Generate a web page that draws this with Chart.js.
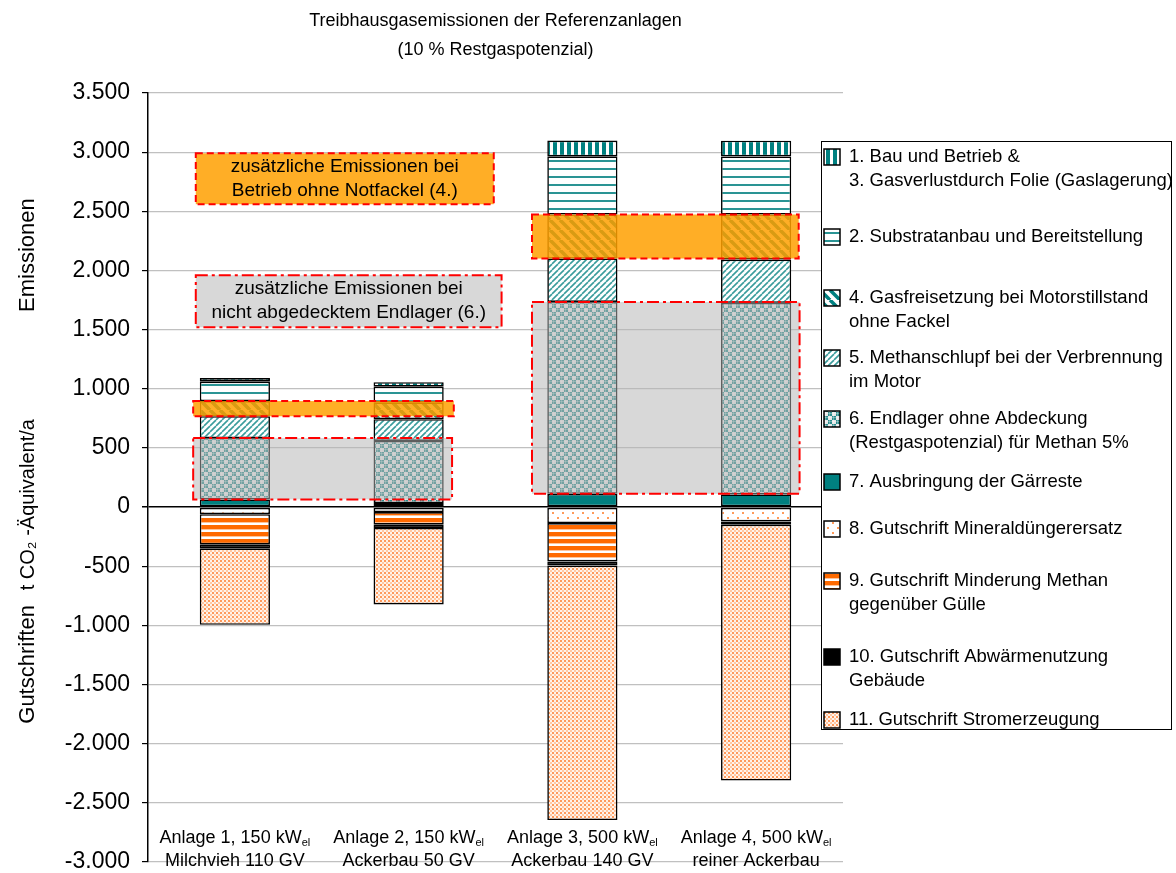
<!DOCTYPE html>
<html>
<head>
<meta charset="utf-8">
<script src="https://cdn.jsdelivr.net/npm/chart.js@4/dist/chart.umd.min.js"></script>
<style>
  html, body { margin: 0; padding: 0; background: #fff; }
  #wrap { width: 1176px; height: 873px; }
</style>
</head>
<body>
<div id="wrap"><canvas id="c" width="1176" height="873"></canvas></div>
<script>
// Treibhausgasemissionen der Referenzanlagen — stacked bars, t CO2-Äq./a

// ---------------------------------------------------------------------------
// Data
// ---------------------------------------------------------------------------

var categoriesTop = ['Anlage 1, 150 kW', 'Anlage 2, 150 kW', 'Anlage 3, 500 kW', 'Anlage 4, 500 kW'];
var categoriesSub = 'el';
var categoriesBottom = ['Milchvieh 110 GV', 'Ackerbau 50 GV', 'Ackerbau 140 GV', 'reiner Ackerbau'];

var bauBetrieb     = [30, 37, 133, 133];      // 1. + 3.
var substrat       = [164, 133, 492, 492];    // 2.
var gasfreisetzung = [128, 142, 372, 380];    // 4.
var methanschlupf  = [184, 184, 367, 366];    // 5.
var endlager       = [519, 525, 1622, 1619];  // 6.
var ausbringung    = [65, 34, 112, 107];      // 7.
var mineral        = [-60, -42, -135, -121];  // 8.
var minderung      = [-255, -107, -324, 0];   // 9.
var abwaerme       = [-34, -28, -34, -28];    // 10.
var strom          = [-646, -646, -2153, -2162]; // 11.

var yTicks = [-3000, -2500, -2000, -1500, -1000, -500, 0, 500, 1000, 1500, 2000, 2500, 3000, 3500];

var legendNames = [
  ['1. Bau und Betrieb &', '3. Gasverlustdurch Folie (Gaslagerung)'],
  ['2. Substratanbau und Bereitstellung'],
  ['4. Gasfreisetzung bei Motorstillstand', 'ohne Fackel'],
  ['5. Methanschlupf bei der Verbrennung', 'im Motor'],
  ['6. Endlager ohne Abdeckung', '(Restgaspotenzial) für Methan 5%'],
  ['7. Ausbringung der Gärreste'],
  ['8. Gutschrift Mineraldüngerersatz'],
  ['9. Gutschrift Minderung Methan', 'gegenüber Gülle'],
  ['10. Gutschrift Abwärmenutzung', 'Gebäude'],
  ['11. Gutschrift Stromerzeugung']
];

var titleLines = ['Treibhausgasemissionen der Referenzanlagen', '(10 % Restgaspotenzial)'];

// ---------------------------------------------------------------------------
// Fill patterns
// ---------------------------------------------------------------------------

var TEAL = '#008080';
var FONT = '"Liberation Sans", Arial, sans-serif';
var mainCtx = document.getElementById('c').getContext('2d');

function pattern(w, h, paint) {
  var c = document.createElement('canvas');
  c.width = w; c.height = h;
  var g = c.getContext('2d');
  paint(g, w, h);
  return mainCtx.createPattern(c, 'repeat');
}

var pVert = pattern(7, 7, function (g) {
  g.fillStyle = '#fff'; g.fillRect(0, 0, 7, 7);
  g.fillStyle = TEAL; g.fillRect(0, 0, 4, 7);
});
var pHoriz = pattern(8, 8, function (g) {
  g.fillStyle = '#fff'; g.fillRect(0, 0, 8, 8);
  g.fillStyle = '#2a9494'; g.fillRect(0, 0, 8, 2);
});
var pDiagDark = pattern(10, 10, function (g) {
  g.fillStyle = '#fff'; g.fillRect(0, 0, 10, 10);
  g.strokeStyle = TEAL; g.lineWidth = 3.5;
  [-10, 0, 10].forEach(function (o) {
    g.beginPath(); g.moveTo(o, 0); g.lineTo(o + 10, 10); g.stroke();
  });
});
var pDiagLight = pattern(6, 6, function (g) {
  g.fillStyle = '#fff'; g.fillRect(0, 0, 6, 6);
  g.strokeStyle = '#3a9c9c'; g.lineWidth = 1.6;
  [-6, 0, 6].forEach(function (o) {
    g.beginPath(); g.moveTo(o, 6); g.lineTo(o + 6, 0); g.stroke();
  });
});
var pCheck = pattern(8, 8, function (g) {
  g.fillStyle = '#e8e8e8'; g.fillRect(0, 0, 8, 8);
  g.fillStyle = '#2b8d8d'; g.fillRect(0, 0, 4, 4); g.fillRect(4, 4, 4, 4);
  g.fillStyle = 'rgba(255,255,255,0.3)';
  g.fillRect(0, 1, 8, 1); g.fillRect(1, 0, 1, 8); g.fillRect(0, 5, 8, 1); g.fillRect(5, 0, 1, 8);
});
var pMineral = pattern(10, 10, function (g) {
  g.fillStyle = '#fff'; g.fillRect(0, 0, 10, 10);
  g.fillStyle = '#ff9a5a'; g.fillRect(2, 2, 2, 2); g.fillRect(7, 7, 2, 2);
});
var pStripes = pattern(7, 7, function (g) {
  g.fillStyle = '#fff'; g.fillRect(0, 0, 7, 7);
  g.fillStyle = '#ff6a00'; g.fillRect(0, 0, 7, 4);
  g.fillStyle = '#ffc49a'; g.fillRect(0, 4, 7, 1);
});
var pStrom = pattern(4, 4, function (g) {
  g.fillStyle = '#fff3ea'; g.fillRect(0, 0, 4, 4);
  g.fillStyle = '#ff9a5c'; g.fillRect(0, 0, 2, 2);
  g.fillStyle = '#ffc8a4'; g.fillRect(2, 2, 2, 2);
});

// ---------------------------------------------------------------------------
// Datasets (stack order: first dataset sits next to the zero line)
// ---------------------------------------------------------------------------

function ds(key, values, fill) {
  return {
    label: legendNames[key].join(' '),
    legendKey: key,
    data: values,
    backgroundColor: fill,
    borderColor: '#000',
    borderWidth: 1.6,
    borderSkipped: false,
    stack: 's'
  };
}

var datasets = [
  ds(5, ausbringung, TEAL),
  ds(4, endlager, pCheck),
  ds(3, methanschlupf, pDiagLight),
  ds(2, gasfreisetzung, pDiagDark),
  ds(1, substrat, pHoriz),
  ds(0, bauBetrieb, pVert),
  ds(6, mineral, pMineral),
  ds(7, minderung, pStripes),
  ds(8, abwaerme, '#000'),
  ds(9, strom, pStrom)
];

// ---------------------------------------------------------------------------
// Overlays, legend and texts
// ---------------------------------------------------------------------------

var ORANGE_FILL = 'rgba(255,160,0,0.85)';
var GREY_FILL = 'rgba(180,180,180,0.52)';

// bands over a pair of bars, following the segment they mark
var bands = [
  { cats: [0, 1], ds: 3, pad: [0.24, 0.26], fill: ORANGE_FILL, dash: [7, 4] },
  { cats: [2, 3], ds: 3, pad: [0.29, 0.245], fill: ORANGE_FILL, dash: [7, 4] },
  { cats: [0, 1], ds: 1, pad: [0.24, 0.25], fill: GREY_FILL, dash: [12, 4, 3, 4] },
  { cats: [2, 3], ds: 1, pad: [0.29, 0.25], fill: GREY_FILL, dash: [12, 4, 3, 4] }
];

var noteBoxes = [
  { x: [-0.225, 1.49], y: [2990, 2560], fill: ORANGE_FILL, dash: [7, 4],
    lines: ['zusätzliche Emissionen bei', 'Betrieb ohne Notfackel (4.)'] },
  { x: [-0.225, 1.535], y: [1960, 1520], fill: GREY_FILL, dash: [12, 4, 3, 4],
    lines: ['zusätzliche Emissionen bei', 'nicht abgedecktem Endlager (6.)'] }
];

var legendRows = [157, 237, 298, 358, 419, 482, 529, 581, 657, 720];

function drawRect(ctx, l, t, r, b, fill, dash) {
  ctx.save();
  ctx.fillStyle = fill;
  ctx.fillRect(l, t, r - l, b - t);
  ctx.strokeStyle = '#ff0000';
  ctx.lineWidth = 2;
  ctx.setLineDash(dash);
  ctx.strokeRect(l, t, r - l, b - t);
  ctx.restore();
}

var overlayPlugin = {
  id: 'overlay',
  afterDatasetsDraw: function (chart) {
    var ctx = chart.ctx;
    var xs = chart.scales.x, ys = chart.scales.y;

    bands.forEach(function (b) {
      var meta = chart.getDatasetMeta(b.ds);
      var e0 = meta.data[b.cats[0]], e1 = meta.data[b.cats[1]];
      var top = Math.min(e0.y, e1.y);
      var bottom = Math.min(e0.base, e1.base);
      var left = xs.getPixelForValue(b.cats[0] - b.pad[0]);
      var right = xs.getPixelForValue(b.cats[1] + b.pad[1]);
      drawRect(ctx, left, top, right, bottom, b.fill, b.dash);
    });

    noteBoxes.forEach(function (n) {
      var l = xs.getPixelForValue(n.x[0]), r = xs.getPixelForValue(n.x[1]);
      var t = ys.getPixelForValue(n.y[0]), b = ys.getPixelForValue(n.y[1]);
      drawRect(ctx, l, t, r, b, n.fill, n.dash);
      ctx.save();
      ctx.fillStyle = '#000';
      ctx.font = '19px ' + FONT;
      ctx.textAlign = 'center';
      ctx.textBaseline = 'middle';
      var cx = (l + r) / 2, cy = (t + b) / 2;
      ctx.fillText(n.lines[0], cx, cy - 12);
      ctx.fillText(n.lines[1], cx, cy + 12);
      ctx.restore();
    });
  },
  afterDraw: function (chart) {
    var ctx = chart.ctx;
    var area = chart.chartArea;
    var xs = chart.scales.x, ys = chart.scales.y;

    // title
    ctx.save();
    ctx.fillStyle = '#000';
    ctx.font = '18px ' + FONT;
    ctx.textAlign = 'center';
    ctx.textBaseline = 'middle';
    var tx = (area.left + area.right) / 2;
    ctx.fillText(titleLines[0], tx, 21);
    ctx.fillText(titleLines[1], tx, 50);
    ctx.restore();

    // y axis title, rotated, in three parts
    ctx.save();
    ctx.fillStyle = '#000';
    ctx.textAlign = 'center';
    ctx.textBaseline = 'middle';
    [['Emissionen', 2130, 22], ['t CO\u2082 -\u00c4quivalent/a', 20, 20], ['Gutschriften', -1330, 22]].forEach(function (p) {
      ctx.save();
      ctx.font = p[2] + 'px ' + FONT;
      ctx.translate(28, ys.getPixelForValue(p[1]));
      ctx.rotate(-Math.PI / 2);
      ctx.fillText(p[0], 0, 0);
      ctx.restore();
    });
    ctx.restore();

    // category labels (inside the plot, above -3.000)
    ctx.save();
    ctx.fillStyle = '#000';
    ctx.textBaseline = 'middle';
    categoriesTop.forEach(function (txt, i) {
      var cx = xs.getPixelForValue(i);
      ctx.font = '18px ' + FONT;
      var w1 = ctx.measureText(txt).width;
      ctx.font = '11px ' + FONT;
      var w2 = ctx.measureText(categoriesSub).width;
      var x0 = cx - (w1 + w2) / 2;
      ctx.textAlign = 'left';
      ctx.font = '18px ' + FONT;
      ctx.fillText(txt, x0, 838);
      ctx.font = '11px ' + FONT;
      ctx.fillText(categoriesSub, x0 + w1, 843);
      ctx.font = '18px ' + FONT;
      ctx.textAlign = 'center';
      ctx.fillText(categoriesBottom[i], cx, 861);
    });
    ctx.restore();

    // legend box
    var L = 821, T = 141, R = 1172, B = 730;
    ctx.save();
    ctx.fillStyle = '#fff';
    ctx.fillRect(L, T, R - L, B - T);
    ctx.strokeStyle = '#000';
    ctx.lineWidth = 1;
    ctx.strokeRect(L + 0.5, T + 0.5, R - L - 1, B - T - 1);
    ctx.beginPath();
    ctx.rect(L + 1, T + 1, R - L - 2, B - T - 2);
    ctx.clip();
    ctx.font = '18.5px ' + FONT;
    ctx.textBaseline = 'middle';
    ctx.textAlign = 'left';
    chart.data.datasets.slice().sort(function (a, b) { return a.legendKey - b.legendKey; })
      .forEach(function (d) {
        var y = legendRows[d.legendKey];
        ctx.fillStyle = d.backgroundColor;
        ctx.fillRect(824, y - 8, 16, 16);
        ctx.strokeStyle = '#000';
        ctx.lineWidth = 1.5;
        ctx.strokeRect(824, y - 8, 16, 16);
        ctx.fillStyle = '#000';
        legendNames[d.legendKey].forEach(function (line, k) {
          ctx.fillText(line, 849, y + k * 24);
        });
      });
    ctx.restore();
  }
};

// ---------------------------------------------------------------------------
// Chart
// ---------------------------------------------------------------------------

function deNumber(v) {
  var s = String(Math.abs(v)).replace(/\B(?=(\d{3})+(?!\d))/g, '.');
  return (v < 0 ? '-' : '') + s;
}

Chart.defaults.font.family = FONT;
Chart.defaults.color = '#000';

new Chart(document.getElementById('c'), {
  type: 'bar',
  data: {
    labels: categoriesTop,
    datasets: datasets
  },
  options: {
    responsive: false,
    animation: false,
    layout: { padding: { left: 0, right: 333, top: 93, bottom: 11 } },
    datasets: { bar: { categoryPercentage: 1, barPercentage: 0.404 } },
    plugins: {
      legend: { display: false },
      title: { display: false },
      tooltip: { enabled: false }
    },
    scales: {
      x: { display: false, stacked: true },
      y: {
        stacked: true,
        min: yTicks[0],
        max: yTicks[yTicks.length - 1],
        afterBuildTicks: function (scale) {
          scale.ticks = yTicks.map(function (v) { return { value: v }; });
        },
        afterFit: function (scale) {
          scale.width = 148;
          scale.paddingTop = 0;
          scale.paddingBottom = 0;
        },
        border: { display: true, color: '#000', width: 1.5 },
        grid: {
          color: function (c) { return c.tick && c.tick.value === 0 ? '#000' : '#c0c0c0'; },
          lineWidth: function (c) { return c.tick && c.tick.value === 0 ? 1.5 : 1.2; },
          tickLength: 6,
          tickColor: '#000'
        },
        ticks: {
          font: { size: 23 },
          padding: 12,
          callback: function (v) { return deNumber(v); }
        }
      }
    }
  },
  plugins: [overlayPlugin]
});
</script>
</body>
</html>
